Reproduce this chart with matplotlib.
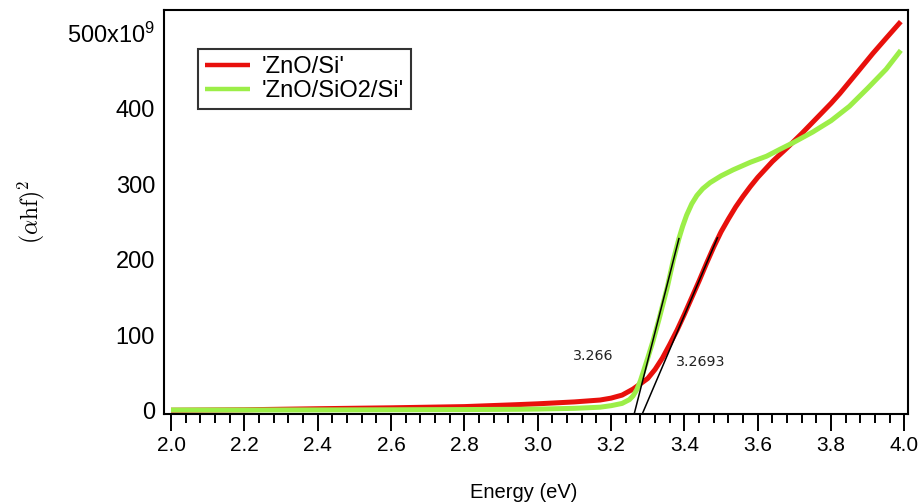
import matplotlib
matplotlib.use("Agg")
import matplotlib.pyplot as plt
from matplotlib.ticker import MultipleLocator

plt.rcParams['font.family'] = ['Liberation Sans', 'DejaVu Sans']
plt.rcParams['mathtext.fontset'] = 'custom'
plt.rcParams['mathtext.rm'] = 'Liberation Sans'
plt.rcParams['mathtext.it'] = 'Liberation Sans:italic'

# ---- data (values in units of 1e9) ----
energy_si = [2.00, 2.20, 2.40, 2.60, 2.80, 2.94, 3.00, 3.10, 3.17, 3.20, 3.23,
             3.245, 3.26, 3.28, 3.30, 3.32, 3.34, 3.36, 3.38, 3.40, 3.42,
             3.44, 3.46, 3.48, 3.50, 3.52, 3.54, 3.56, 3.58, 3.60, 3.64,
             3.68, 3.72, 3.76, 3.80, 3.824, 3.87, 3.914, 3.95, 3.99]
alpha_si = [1.0, 1.6, 3.0, 4.2, 5.8, 8.3, 9.5, 12.0, 14.5, 17.0, 21.0,
            25, 29.0, 36, 43, 55, 70, 88, 107, 128, 150,
            172, 195, 217, 237, 254, 270, 284, 297, 309, 330,
            348, 367, 387, 407, 420, 447, 473, 493, 515]

energy_sio2 = [2.00, 2.20, 2.40, 2.60, 2.80, 2.94, 3.00, 3.10, 3.17, 3.20, 3.23,
               3.25, 3.26, 3.27, 3.28, 3.29, 3.30, 3.314, 3.33, 3.353, 3.37,
               3.385, 3.395, 3.406, 3.42, 3.434, 3.45, 3.47, 3.50, 3.533, 3.58,
               3.624, 3.66, 3.697, 3.75, 3.80, 3.85, 3.90, 3.95, 3.99]
alpha_sio2 = [1.3, 1.3, 1.4, 1.6, 1.9, 2.2, 2.5, 3.5, 5.0, 7.0, 10.0,
              15, 20, 28, 40, 55, 70, 92, 120, 163, 200,
              228, 244, 259, 274, 285, 294, 302, 311, 319, 329,
              337, 346, 355, 369, 384, 403, 427, 452, 477]

tangent_sio2_x = [3.263, 3.385]
tangent_sio2_y = [-4, 228]
tangent_si_x = [3.285, 3.490]
tangent_si_y = [-4, 229]

ytick_vals = [0, 100, 200, 300, 400, 500]
ytick_labels = ['0', '100', '200', '300', '400', '500x10$^{9}$']
xtick_vals = [2.0, 2.2, 2.4, 2.6, 2.8, 3.0, 3.2, 3.4, 3.6, 3.8, 4.0]
xtick_labels = ['2.0', '2.2', '2.4', '2.6', '2.8', '3.0', '3.2', '3.4', '3.6', '3.8', '4.0']

red = '#e8100c'
green = '#9cee48'

fig = plt.figure(figsize=(9.2, 5.04), dpi=100)
ax = fig.add_axes([0.1783, 0.1786, 0.8087, 0.8016])

ax.plot(energy_si, alpha_si, color=red, lw=3.6, label="'ZnO/Si'", solid_capstyle='butt')
ax.plot(energy_sio2, alpha_sio2, color=green, lw=3.6, label="'ZnO/SiO2/Si'", solid_capstyle='butt')
ax.plot(tangent_sio2_x, tangent_sio2_y, color='black', lw=1.1)
ax.plot(tangent_si_x, tangent_si_y, color='black', lw=1.1)

ax.text(3.151, 73, '3.266', fontsize=10.3, family='DejaVu Sans', color='#222222',
        ha='center', va='center')
ax.text(3.443, 65, '3.2693', fontsize=10.3, family='DejaVu Sans', color='#222222',
        ha='center', va='center')

ax.set_xlim(1.981, 4.0098)
ax.set_ylim(-3.97, 530.4)

ax.set_xticks(xtick_vals)
ax.set_xticklabels(xtick_labels)
ax.xaxis.set_minor_locator(MultipleLocator(0.04))
ax.tick_params(axis='x', which='major', direction='out', length=12, width=1.4,
               labelsize=15, pad=3.5)
ax.tick_params(axis='x', which='minor', direction='out', length=6.5, width=1.4)
ax.set_yticks(ytick_vals)
ax.set_yticklabels(ytick_labels)
ax.tick_params(axis='y', which='both', length=0, labelsize=17, pad=6.5)

for s in ax.spines.values():
    s.set_linewidth(1.5)
    s.set_color('black')

ax.set_xlabel('Energy (eV)', fontsize=14.5, va='center')
ax.xaxis.set_label_coords(0.483, -0.195)
ax.set_ylabel(r'$(\alpha\mathrm{hf})^2$', fontsize=17, math_fontfamily='cm', va='center')
ax.yaxis.set_label_coords(-0.178, 0.5)

leg = ax.legend(loc='upper left', bbox_to_anchor=(0.0457, 0.9035), borderaxespad=0,
                fontsize=17, frameon=True, fancybox=False, handlelength=1.9,
                handletextpad=0.48, borderpad=0.3, labelspacing=0.1)
leg.get_frame().set_edgecolor('black')
leg.get_frame().set_linewidth(1.5)
for ln in leg.get_lines():
    ln.set_linewidth(3.2)

fig.savefig('out.png', dpi=100)
